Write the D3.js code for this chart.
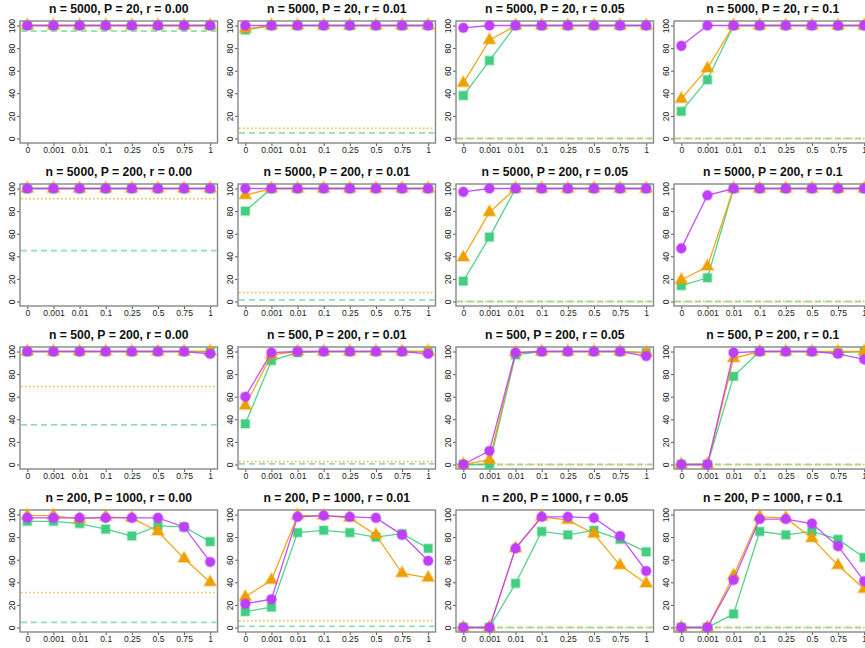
<!DOCTYPE html>
<html><head><meta charset="utf-8">
<script src="https://cdn.jsdelivr.net/npm/d3@7"></script>
<style>body{margin:0;background:#fff}svg{display:block}</style>
</head><body>
<svg id="c" width="865" height="648"></svg>
<script>
const categories = ["0","0.001","0.01","0.1","0.25","0.5","0.75","1"];
const yTicks = [0,20,40,60,80,100];
const panelTitles = [
 "n = 5000, P = 20, r = 0.00","n = 5000, P = 20, r = 0.01","n = 5000, P = 20, r = 0.05","n = 5000, P = 20, r = 0.1",
 "n = 5000, P = 200, r = 0.00","n = 5000, P = 200, r = 0.01","n = 5000, P = 200, r = 0.05","n = 5000, P = 200, r = 0.1",
 "n = 500, P = 200, r = 0.00","n = 500, P = 200, r = 0.01","n = 500, P = 200, r = 0.05","n = 500, P = 200, r = 0.1",
 "n = 200, P = 1000, r = 0.00","n = 200, P = 1000, r = 0.01","n = 200, P = 1000, r = 0.05","n = 200, P = 1000, r = 0.1"
];
const greenSeries = [
 [100,100,100,100,100,100,100,100],[96,100,100,100,100,100,100,100],[38,69,100,100,100,100,100,100],[24,52,100,100,100,100,100,100],
 [100,100,100,100,100,100,100,100],[80,100,100,100,100,100,100,100],[18,57,100,100,100,100,100,100],[14,21,100,100,100,100,100,100],
 [100,100,100,100,100,100,100,100],[36,92,99,100,100,100,100,100],[0,0,97,100,100,100,100,99],[0,0,78,100,100,100,99,100],
 [94,94,92,87,81,90,89,76],[14,18,84,86,84,80,83,70],[0,0,39,85,82,86,78,67],[0,0,12,85,82,85,78,62]
];
const orangeSeries = [
 [100,100,100,100,100,100,100,100],[97,100,100,100,100,100,100,100],[49,87,100,100,100,100,100,100],[35,62,100,100,100,100,100,100],
 [100,100,100,100,100,100,100,100],[94,100,100,100,100,100,100,100],[39,79,100,100,100,100,100,100],[19,31,100,100,100,100,100,100],
 [100,100,100,100,100,100,100,100],[52,97,100,100,100,100,100,100],[0,4,99,100,100,100,100,99],[0,0,94,100,100,100,100,100],
 [99,99,96,98,97,85,61,40],[27,42,99,99,97,82,48,44],[0,0,70,98,95,83,55,39],[0,0,46,98,97,79,55,34]
];
const purpleSeries = [
 [100,100,100,100,100,100,100,100],[100,100,100,100,100,100,100,100],[98,100,100,100,100,100,100,100],[82,100,100,100,100,100,100,100],
 [100,100,100,100,100,100,100,100],[100,100,100,100,100,100,100,100],[97,100,100,100,100,100,100,100],[47,94,100,100,100,100,100,100],
 [100,100,100,100,100,100,100,98],[60,99,100,100,100,100,100,98],[0,12,99,100,100,100,100,96],[0,0,99,100,100,100,98,93],
 [97,97,97,97,97,97,89,58],[21,25,98,99,98,97,82,59],[0,0,70,98,98,97,81,50],[0,0,42,96,96,92,72,41]
];
const refGreen  = [95,5,0,0, 45,1.5,0,0, 35,0.5,0,0, 4.5,1,0,0];
const refOrange = [100,9,0,0, 91,8,0,0, 69,2.5,0,0, 31,6,0,0];

const svg = d3.select("#c");
const boxW = 197.5, boxH = 122;
const colLeft = c => 20 + 218*c;
const rowTop = r => 21 + 163*r;
const cGreen = "#43CD80", cOrange = "#EEA000", cPurple = "#BF3EFF";
const font = "Liberation Sans, Arial, sans-serif";

panelTitles.forEach((title, i) => {
  const r = Math.floor(i/4), c = i%4;
  const L = colLeft(c), T = rowTop(r);
  // R-style: 4% padding beyond first/last category
  const xs = d3.scaleLinear().domain([0.72, 8.28]).range([L, L+boxW]);
  const xp = k => xs(k+1);
  const y = d3.scaleLinear().domain([-4, 104]).range([T+boxH, T]);
  const g = svg.append("g");

  g.append("text").attr("x", L+boxW/2).attr("y", T-8.5).attr("text-anchor","middle")
    .attr("font-family", font).attr("font-weight","bold").attr("font-size", 12.2).attr("fill","#111").text(title);

  // y axis
  const yAx = g.append("g").attr("transform", `translate(${L},0)`)
    .call(d3.axisLeft(y).tickValues(yTicks).tickSize(3).tickPadding(0));
  yAx.select(".domain").remove();
  yAx.selectAll("line").attr("stroke","#555");
  yAx.selectAll("text").attr("font-family", font).attr("font-size", 8.6).attr("fill","#222")
    .attr("x", 0).attr("y", 0).attr("dy", "0.35em").attr("text-anchor","middle")
    .attr("transform", "translate(-8.5,0) rotate(-90)");

  // x axis
  const xAx = g.append("g").attr("transform", `translate(0,${T+boxH})`)
    .call(d3.axisBottom(xs).tickValues(d3.range(1,9)).tickFormat(k => categories[k-1]).tickSize(3).tickPadding(1));
  xAx.select(".domain").remove();
  xAx.selectAll("line").attr("stroke","#555");
  xAx.selectAll("text").attr("font-family", font).attr("font-size", 8.6).attr("fill","#222");

  // box
  g.append("rect").attr("x", L).attr("y", T).attr("width", boxW).attr("height", boxH)
    .attr("fill","none").attr("stroke","#888").attr("stroke-width",1.4);

  // reference lines
  g.append("line").attr("x1", L+1).attr("x2", L+boxW-1).attr("y1", y(refGreen[i])).attr("y2", y(refGreen[i]))
    .attr("stroke", "#8FE0B5").attr("stroke-width", 1.8).attr("stroke-dasharray","6,4");
  g.append("line").attr("x1", L+1).attr("x2", L+boxW-1).attr("y1", y(refOrange[i])).attr("y2", y(refOrange[i]))
    .attr("stroke", "#F5B940").attr("stroke-width", 1.6).attr("stroke-dasharray","1.5,2.5");

  const line = d3.line().x((d,k) => xp(k)).y(d => y(d));
  const series = [
    {vals: greenSeries[i], color: cGreen, shape: d3.symbolSquare, size: 70},
    {vals: orangeSeries[i], color: cOrange, shape: d3.symbolTriangle, size: 62},
    {vals: purpleSeries[i], color: cPurple, shape: d3.symbolCircle, size: 72}
  ];
  series.forEach(s => {
    g.append("path").datum(s.vals).attr("d", line).attr("fill","none")
      .attr("stroke", s.color).attr("stroke-width", 1.3).attr("stroke-opacity", 0.9);
    g.selectAll(null).data(s.vals).enter().append("path")
      .attr("d", d3.symbol().type(s.shape).size(s.size))
      .attr("transform", (d,k) => `translate(${xp(k)},${y(d)})`)
      .attr("fill", s.color).attr("stroke", s.color).attr("stroke-opacity",0.35).attr("stroke-width",2);
  });
});
</script>
</body></html>
